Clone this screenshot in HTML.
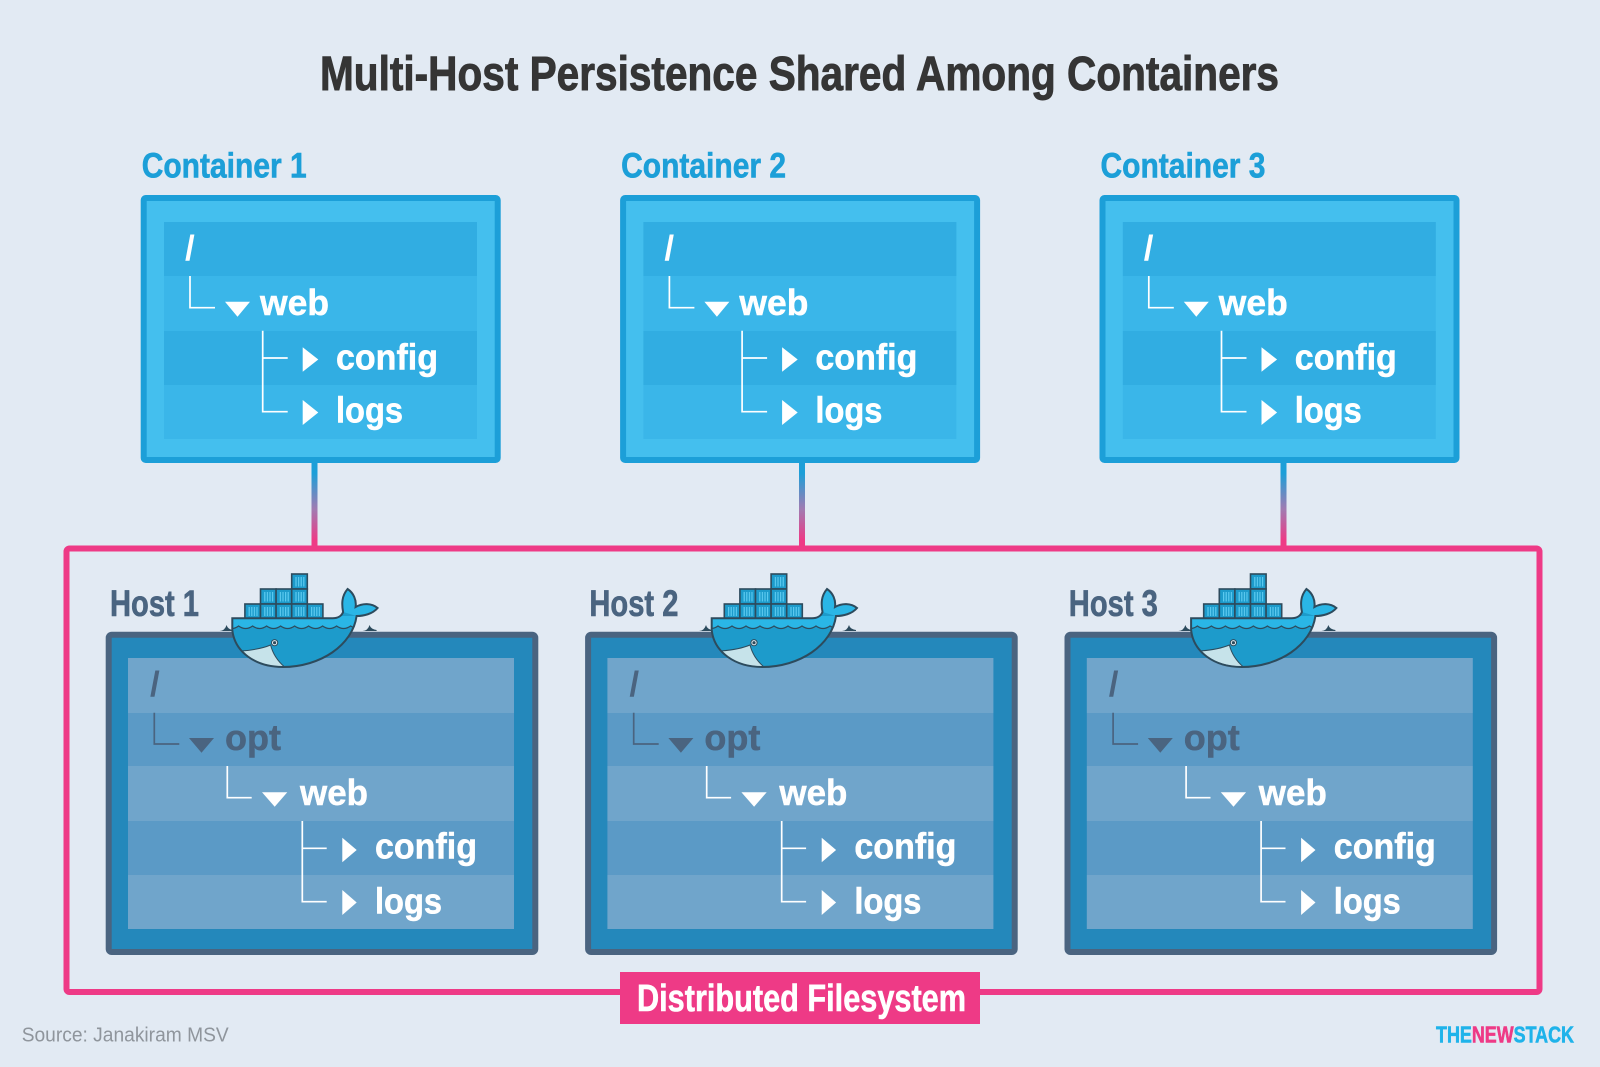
<!DOCTYPE html>
<html><head><meta charset="utf-8"><style>
html,body{margin:0;padding:0;background:#e2eaf3;}
svg{display:block;}
text{font-family:"Liberation Sans",sans-serif;font-weight:bold;}
</style></head><body>
<svg width="1600" height="1067" viewBox="0 0 1600 1067" xmlns="http://www.w3.org/2000/svg">
<defs>
<linearGradient id="cg" x1="0" y1="0" x2="0" y2="1">
<stop offset="0" stop-color="#1c9fd8"/><stop offset="0.15" stop-color="#1c9fd8"/>
<stop offset="0.55" stop-color="#a07cb2"/><stop offset="0.9" stop-color="#ee3a86"/><stop offset="1" stop-color="#ee3a86"/>
</linearGradient>
<pattern id="st" width="2.6" height="20" patternUnits="userSpaceOnUse"><rect width="1.2" height="20" fill="#5ccaf0"/></pattern>
<clipPath id="hullclip"><path d="M711.7,618.3 L812,618.3 C817,618.3 821,616 822.5,612 L836,616 C832,645 800,667 762,667 C735,667 714,652 711.7,630 Z"/></clipPath>
<g id="whale">
<path d="M699,631 Q704,631 706,625 Q707,629 712,630 L712,631 Z" fill="#2d4b5d"/>
<path d="M842,631 Q847,631 849,625 Q850,629 856,630 L856,631 Z" fill="#2d4b5d"/>
<g fill="#1d9bcb" stroke="#2d4b5d" stroke-width="1.6">
<rect x="771.1" y="574" width="15.6" height="15"/>
<rect x="739.9" y="589" width="15.6" height="15"/><rect x="755.5" y="589" width="15.6" height="15"/><rect x="771.1" y="589" width="15.6" height="15"/>
<rect x="724.3" y="604" width="15.6" height="14.5"/><rect x="739.9" y="604" width="15.6" height="14.5"/><rect x="755.5" y="604" width="15.6" height="14.5"/><rect x="771.1" y="604" width="15.6" height="14.5"/><rect x="786.7" y="604" width="15.6" height="14.5"/>
</g>
<g fill="url(#st)">
<rect x="774" y="577" width="10" height="9.5"/>
<rect x="742.8" y="592" width="10" height="9.5"/><rect x="758.4" y="592" width="10" height="9.5"/><rect x="774" y="592" width="10" height="9.5"/>
<rect x="727.2" y="607" width="10" height="9"/><rect x="742.8" y="607" width="10" height="9"/><rect x="758.4" y="607" width="10" height="9"/><rect x="774" y="607" width="10" height="9"/><rect x="789.6" y="607" width="10" height="9"/>
</g>
<path d="M711.7,618.3 L812,618.3 C817,618.3 821,616 822.5,612 C821,604 821,596 827,589 C833,593 836,600 835,607 C842,603 851,603 857,608 C852,614 843,616 836,616 C832,645 800,667 762,667 C735,667 714,652 711.7,630 Z" fill="#1d9bcb"/>
<path d="M822.5,612 C821,604 821,596 827,589 C833,593 836,600 835,607 C842,603 851,603 857,608 C852,614 843,616 836,616 Z" fill="#2ab6e6"/>
<g clip-path="url(#hullclip)">
<path d="M705,616 H845 V626 Q838,631 830,626 Q823,631 816,626 Q809,631 802,626 Q795,631 788,626 Q781,631 774,626 Q767,631 760,626 Q753,631 746,626 Q739,631 732,626 Q725,631 718,626 Q711,631 705,626 Z" fill="#2ab6e6"/>
<path d="M705,626 Q711,631 718,626 Q725,631 732,626 Q739,631 746,626 Q753,631 760,626 Q767,631 774,626 Q781,631 788,626 Q795,631 802,626 Q809,631 816,626 Q823,631 830,626 Q838,631 845,626" fill="none" stroke="#2d4b5d" stroke-width="1.2"/>
<path d="M836,630 C825,650 800,665 770,667 L830,667 Z" fill="#1a8cbc"/>
</g>
<path d="M721,651 C733,650 743,648 750,645 C752,653 757,661 764,667 C745,667 730,661 721,651 Z" fill="#c6e3ea" stroke="#2d4b5d" stroke-width="1"/>
<path d="M711.7,618.3 L812,618.3 C817,618.3 821,616 822.5,612 C821,604 821,596 827,589 C833,593 836,600 835,607 C842,603 851,603 857,608 C852,614 843,616 836,616 C832,645 800,667 762,667 C735,667 714,652 711.7,630 Z" fill="none" stroke="#2d4b5d" stroke-width="2"/>
<circle cx="754" cy="642.7" r="3.6" fill="#2d4b5d"/><circle cx="754" cy="642.7" r="2.6" fill="#e8f2f6"/><circle cx="754" cy="642.7" r="1.6" fill="#2d4b5d"/>
</g>
</defs>

<rect width="1600" height="1067" fill="#e2eaf3"/>

<!-- Title -->
<text x="320" y="90" font-size="48" fill="#353535" stroke="#353535" stroke-width="0.9" textLength="959" lengthAdjust="spacingAndGlyphs">Multi-Host Persistence Shared Among Containers</text>

<!-- connectors -->
<rect x="311.5" y="460" width="6" height="89" fill="url(#cg)"/>
<rect x="799" y="460" width="6" height="89" fill="url(#cg)"/>
<rect x="1280.5" y="460" width="6" height="89" fill="url(#cg)"/>

<!-- pink distributed FS -->
<rect x="66.5" y="548.5" width="1473" height="443.5" rx="3" fill="none" stroke="#ee3a86" stroke-width="6"/>

<!-- Containers -->
<g>
<text x="141.7" y="177.3" font-size="35" fill="#1c9fd8" stroke="#1c9fd8" stroke-width="0.6" textLength="165" lengthAdjust="spacingAndGlyphs">Container 1</text>
<rect x="143.7" y="198" width="354" height="262" rx="2" fill="#44bfee" stroke="#1c9fd8" stroke-width="6"/>
<rect x="164" y="222" width="313" height="54" fill="#31ade2"/>
<rect x="164" y="276" width="313" height="55" fill="#3ab6e9"/>
<rect x="164" y="331" width="313" height="54" fill="#31ade2"/>
<rect x="164" y="385" width="313" height="54" fill="#3ab6e9"/>
<text x="185" y="260" font-size="35" fill="#fff">/</text>
<path d="M190,276 V307.7 H215 M262.7,330.7 V411.7 H287.7 M262.7,358 H287.7" fill="none" stroke="#fff" stroke-width="1.7"/>
<path d="M225,301.7 L250,301.7 L237.5,316.7 Z M302.7,347.3 L302.7,371.7 L318.3,359.5 Z M302.7,400 L302.7,425 L318.3,412.5 Z" fill="#fff"/>
<g fill="#fff" stroke="#fff" stroke-width="0.5">
<text x="260" y="315" font-size="36" textLength="69" lengthAdjust="spacingAndGlyphs">web</text>
<text x="336" y="369.3" font-size="36" textLength="102" lengthAdjust="spacingAndGlyphs">config</text>
<text x="336" y="422.7" font-size="36" textLength="67" lengthAdjust="spacingAndGlyphs">logs</text>
</g>
</g>
<g transform="translate(479.4,0)">
<text x="141.7" y="177.3" font-size="35" fill="#1c9fd8" stroke="#1c9fd8" stroke-width="0.6" textLength="165" lengthAdjust="spacingAndGlyphs">Container 2</text>
<rect x="143.7" y="198" width="354" height="262" rx="2" fill="#44bfee" stroke="#1c9fd8" stroke-width="6"/>
<rect x="164" y="222" width="313" height="54" fill="#31ade2"/>
<rect x="164" y="276" width="313" height="55" fill="#3ab6e9"/>
<rect x="164" y="331" width="313" height="54" fill="#31ade2"/>
<rect x="164" y="385" width="313" height="54" fill="#3ab6e9"/>
<text x="185" y="260" font-size="35" fill="#fff">/</text>
<path d="M190,276 V307.7 H215 M262.7,330.7 V411.7 H287.7 M262.7,358 H287.7" fill="none" stroke="#fff" stroke-width="1.7"/>
<path d="M225,301.7 L250,301.7 L237.5,316.7 Z M302.7,347.3 L302.7,371.7 L318.3,359.5 Z M302.7,400 L302.7,425 L318.3,412.5 Z" fill="#fff"/>
<g fill="#fff" stroke="#fff" stroke-width="0.5">
<text x="260" y="315" font-size="36" textLength="69" lengthAdjust="spacingAndGlyphs">web</text>
<text x="336" y="369.3" font-size="36" textLength="102" lengthAdjust="spacingAndGlyphs">config</text>
<text x="336" y="422.7" font-size="36" textLength="67" lengthAdjust="spacingAndGlyphs">logs</text>
</g>
</g>
<g transform="translate(958.8,0)">
<text x="141.7" y="177.3" font-size="35" fill="#1c9fd8" stroke="#1c9fd8" stroke-width="0.6" textLength="165" lengthAdjust="spacingAndGlyphs">Container 3</text>
<rect x="143.7" y="198" width="354" height="262" rx="2" fill="#44bfee" stroke="#1c9fd8" stroke-width="6"/>
<rect x="164" y="222" width="313" height="54" fill="#31ade2"/>
<rect x="164" y="276" width="313" height="55" fill="#3ab6e9"/>
<rect x="164" y="331" width="313" height="54" fill="#31ade2"/>
<rect x="164" y="385" width="313" height="54" fill="#3ab6e9"/>
<text x="185" y="260" font-size="35" fill="#fff">/</text>
<path d="M190,276 V307.7 H215 M262.7,330.7 V411.7 H287.7 M262.7,358 H287.7" fill="none" stroke="#fff" stroke-width="1.7"/>
<path d="M225,301.7 L250,301.7 L237.5,316.7 Z M302.7,347.3 L302.7,371.7 L318.3,359.5 Z M302.7,400 L302.7,425 L318.3,412.5 Z" fill="#fff"/>
<g fill="#fff" stroke="#fff" stroke-width="0.5">
<text x="260" y="315" font-size="36" textLength="69" lengthAdjust="spacingAndGlyphs">web</text>
<text x="336" y="369.3" font-size="36" textLength="102" lengthAdjust="spacingAndGlyphs">config</text>
<text x="336" y="422.7" font-size="36" textLength="67" lengthAdjust="spacingAndGlyphs">logs</text>
</g>
</g>

<!-- Hosts -->
<g>
<text x="110" y="616" font-size="37" fill="#4a6480" stroke="#4a6480" stroke-width="0.6" textLength="89" lengthAdjust="spacingAndGlyphs">Host 1</text>
<rect x="108.7" y="634.7" width="426.6" height="317.3" rx="3" fill="#2488bb" stroke="#4a6480" stroke-width="6"/>
<rect x="128" y="658" width="386" height="55" fill="#70a5cb"/>
<rect x="128" y="713" width="386" height="53" fill="#5b9ac6"/>
<rect x="128" y="766" width="386" height="55" fill="#70a5cb"/>
<rect x="128" y="821" width="386" height="54" fill="#5b9ac6"/>
<rect x="128" y="875" width="386" height="54" fill="#70a5cb"/>
<text x="150" y="696" font-size="35" fill="#4a6480">/</text>
<path d="M154.3,712.7 V744 H179.3" fill="none" stroke="#4a6480" stroke-width="1.7"/>
<path d="M189,738 L214,738 L201.5,752.7 Z" fill="#4a6480"/>
<text x="225" y="750" font-size="36" fill="#4a6480" stroke="#4a6480" stroke-width="0.5" textLength="56" lengthAdjust="spacingAndGlyphs">opt</text>
<path d="M227.3,766 V797.7 H251.7 M302.3,821 V901.7 H326.7 M302.3,848.3 H326.7" fill="none" stroke="#fff" stroke-width="1.7"/>
<path d="M262,792.3 L287.3,792.3 L274.7,806.7 Z M342.3,837.7 L342.3,862.3 L356.7,850 Z M342.3,890 L342.3,915 L356.7,902.5 Z" fill="#fff"/>
<g fill="#fff" stroke="#fff" stroke-width="0.5">
<text x="300" y="805" font-size="36" textLength="68" lengthAdjust="spacingAndGlyphs">web</text>
<text x="375" y="858.3" font-size="36" textLength="102" lengthAdjust="spacingAndGlyphs">config</text>
<text x="375" y="913.3" font-size="36" textLength="67" lengthAdjust="spacingAndGlyphs">logs</text>
</g>
<use href="#whale" transform="translate(-479.4,0)"/>
</g>
<g transform="translate(479.4,0)">
<text x="110" y="616" font-size="37" fill="#4a6480" stroke="#4a6480" stroke-width="0.6" textLength="89" lengthAdjust="spacingAndGlyphs">Host 2</text>
<rect x="108.7" y="634.7" width="426.6" height="317.3" rx="3" fill="#2488bb" stroke="#4a6480" stroke-width="6"/>
<rect x="128" y="658" width="386" height="55" fill="#70a5cb"/>
<rect x="128" y="713" width="386" height="53" fill="#5b9ac6"/>
<rect x="128" y="766" width="386" height="55" fill="#70a5cb"/>
<rect x="128" y="821" width="386" height="54" fill="#5b9ac6"/>
<rect x="128" y="875" width="386" height="54" fill="#70a5cb"/>
<text x="150" y="696" font-size="35" fill="#4a6480">/</text>
<path d="M154.3,712.7 V744 H179.3" fill="none" stroke="#4a6480" stroke-width="1.7"/>
<path d="M189,738 L214,738 L201.5,752.7 Z" fill="#4a6480"/>
<text x="225" y="750" font-size="36" fill="#4a6480" stroke="#4a6480" stroke-width="0.5" textLength="56" lengthAdjust="spacingAndGlyphs">opt</text>
<path d="M227.3,766 V797.7 H251.7 M302.3,821 V901.7 H326.7 M302.3,848.3 H326.7" fill="none" stroke="#fff" stroke-width="1.7"/>
<path d="M262,792.3 L287.3,792.3 L274.7,806.7 Z M342.3,837.7 L342.3,862.3 L356.7,850 Z M342.3,890 L342.3,915 L356.7,902.5 Z" fill="#fff"/>
<g fill="#fff" stroke="#fff" stroke-width="0.5">
<text x="300" y="805" font-size="36" textLength="68" lengthAdjust="spacingAndGlyphs">web</text>
<text x="375" y="858.3" font-size="36" textLength="102" lengthAdjust="spacingAndGlyphs">config</text>
<text x="375" y="913.3" font-size="36" textLength="67" lengthAdjust="spacingAndGlyphs">logs</text>
</g>
<use href="#whale" transform="translate(-479.4,0)"/>
</g>
<g transform="translate(958.8,0)">
<text x="110" y="616" font-size="37" fill="#4a6480" stroke="#4a6480" stroke-width="0.6" textLength="89" lengthAdjust="spacingAndGlyphs">Host 3</text>
<rect x="108.7" y="634.7" width="426.6" height="317.3" rx="3" fill="#2488bb" stroke="#4a6480" stroke-width="6"/>
<rect x="128" y="658" width="386" height="55" fill="#70a5cb"/>
<rect x="128" y="713" width="386" height="53" fill="#5b9ac6"/>
<rect x="128" y="766" width="386" height="55" fill="#70a5cb"/>
<rect x="128" y="821" width="386" height="54" fill="#5b9ac6"/>
<rect x="128" y="875" width="386" height="54" fill="#70a5cb"/>
<text x="150" y="696" font-size="35" fill="#4a6480">/</text>
<path d="M154.3,712.7 V744 H179.3" fill="none" stroke="#4a6480" stroke-width="1.7"/>
<path d="M189,738 L214,738 L201.5,752.7 Z" fill="#4a6480"/>
<text x="225" y="750" font-size="36" fill="#4a6480" stroke="#4a6480" stroke-width="0.5" textLength="56" lengthAdjust="spacingAndGlyphs">opt</text>
<path d="M227.3,766 V797.7 H251.7 M302.3,821 V901.7 H326.7 M302.3,848.3 H326.7" fill="none" stroke="#fff" stroke-width="1.7"/>
<path d="M262,792.3 L287.3,792.3 L274.7,806.7 Z M342.3,837.7 L342.3,862.3 L356.7,850 Z M342.3,890 L342.3,915 L356.7,902.5 Z" fill="#fff"/>
<g fill="#fff" stroke="#fff" stroke-width="0.5">
<text x="300" y="805" font-size="36" textLength="68" lengthAdjust="spacingAndGlyphs">web</text>
<text x="375" y="858.3" font-size="36" textLength="102" lengthAdjust="spacingAndGlyphs">config</text>
<text x="375" y="913.3" font-size="36" textLength="67" lengthAdjust="spacingAndGlyphs">logs</text>
</g>
<use href="#whale" transform="translate(-479.4,0)"/>
</g>

<!-- Distributed Filesystem label -->
<rect x="620" y="972" width="360" height="52" fill="#ee3a86"/>
<text x="637" y="1011" font-size="38" fill="#fff" stroke="#fff" stroke-width="0.6" textLength="329" lengthAdjust="spacingAndGlyphs">Distributed Filesystem</text>

<!-- footer -->
<text x="21.7" y="1041.7" font-size="20" fill="#8f959c" style="font-weight:normal" textLength="207" lengthAdjust="spacingAndGlyphs">Source: Janakiram MSV</text>
<text x="1436" y="1042.7" font-size="23" stroke-width="0.6" textLength="138" lengthAdjust="spacingAndGlyphs"><tspan fill="#1fb3ea" stroke="#1fb3ea">THE</tspan><tspan fill="#ee3a86" stroke="#ee3a86">NEW</tspan><tspan fill="#1fb3ea" stroke="#1fb3ea">STACK</tspan></text>
</svg>
</body></html>
